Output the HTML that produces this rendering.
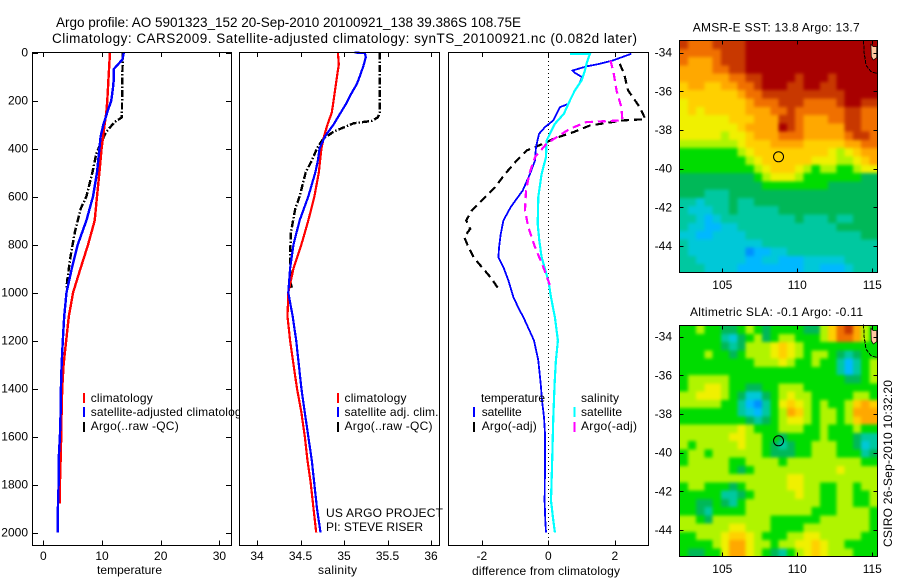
<!DOCTYPE html>
<html>
<head>
<meta charset="utf-8">
<title>Argo profile</title>
<style>
html,body{margin:0;padding:0;background:#fff;}
svg{display:block;}
text{font-family:"Liberation Sans",sans-serif;font-size:12px;fill:#000;}
.t{font-size:13.5px;}
</style>
</head>
<body>
<svg id="chart" xmlns="http://www.w3.org/2000/svg" width="900" height="580" viewBox="0 0 900 580">
<defs>
<filter id="soften" x="-5%" y="-5%" width="110%" height="110%" color-interpolation-filters="sRGB"><feGaussianBlur stdDeviation="1.6"/></filter>
<clipPath id="clip-sst"><rect x="679.5" y="40.5" width="198" height="232"/></clipPath>
<clipPath id="clip-sla"><rect x="679.5" y="325.5" width="198" height="231"/></clipPath>
</defs>
<rect x="0" y="0" width="900" height="580" fill="#fff"/>
<text class="t" x="56" y="27" textLength="465">Argo profile: AO 5901323_152 20-Sep-2010 20100921_138 39.386S 108.75E</text>
<text class="t" x="52" y="43" textLength="585">Climatology: CARS2009. Satellite-adjusted climatology: synTS_20100921.nc (0.082d later)</text>
<g id="layer"></g>
</svg>
<script>
// ---- temperature panel ----
const tempClimDepth = [0,100,200,250,300,400,500,600,700,750,800,900,1000,1100,1200,1300,1400,1500,1600,1700,1800,1880];
const tempClimValue = [11.36,11.13,10.9,10.73,10.45,9.94,9.55,9.15,8.76,8.19,7.63,6.33,5.08,4.35,3.9,3.45,3.22,3.11,3.05,2.94,2.82,2.82];
const tempSatDepth = [0,30,50,70,120,150,200,240,300,350,400,500,600,700,800,900,1000,1100,1200,1300,1400,1500,1600,1700,1800,1900,2000];
const tempSatValue = [13.73,13.45,12.71,11.98,11.98,11.86,11.58,11.02,10.23,9.77,9.55,9.15,8.47,7.34,5.88,4.86,3.95,3.56,3.33,3.11,2.99,2.94,2.82,2.6,2.6,2.49,2.49];
const tempArgoDepth = [0,100,270,290,330,380,420,500,600,650,750,850,950,980];
const tempArgoValue = [13.56,13.45,13.39,12.15,10.73,9.77,9.04,8.36,7.34,6.38,5.37,4.63,4.07,3.95];
// ---- salinity panel ----
const salClimDepth = [0,50,100,200,250,300,350,400,500,600,700,800,900,1000,1100,1200,1300,1400,1500,1600,1700,1800,1900,2000];
const salClimValue = [34.93,34.94,34.92,34.88,34.86,34.81,34.77,34.74,34.71,34.66,34.59,34.51,34.42,34.36,34.35,34.38,34.42,34.46,34.51,34.55,34.58,34.62,34.65,34.68];
const salSatDepth = [0,3,20,60,100,130,180,210,270,300,350,400,450,500,600,700,800,900,1000,1100,1200,1300,1400,1500,1600,1700,1800,1900,2000];
const salSatValue = [35.12,35.24,35.25,35.22,35.18,35.15,35.07,35.03,34.93,34.88,34.78,34.72,34.70,34.67,34.59,34.49,34.42,34.38,34.36,34.41,34.45,34.48,34.51,34.55,34.59,34.63,34.66,34.69,34.73];
const salArgoDepth = [0,100,250,270,285,295,310,330,360,400,450,500,600,650,750,850,950,980];
const salArgoValue = [35.41,35.41,35.41,35.39,35.32,35.11,35.01,34.88,34.76,34.69,34.63,34.56,34.49,34.44,34.39,34.38,34.38,34.40];
// ---- difference panel ----
const diffTempSatDepth = [5,33,47,58,75,85,103,124,158,214,228,283,311,339,394,450,506,575,644,700,755,811,853,894,950,1019,1069,1103,1200,1283,1380,1450,1519,1589,1728,1867,1950,2000];
const diffTempSatValue = [2.5,1.95,1.55,1.15,0.73,0.8,1.02,0.95,0.8,0.6,0.35,0.15,-0.1,-0.28,-0.37,-0.4,-0.55,-0.77,-1.13,-1.35,-1.43,-1.48,-1.5,-1.35,-1.2,-1.05,-0.88,-0.75,-0.43,-0.3,-0.23,-0.19,-0.13,-0.1,-0.1,-0.11,-0.09,-0.07];
const diffSalSatDepth = [5,6,47,75,117,158,200,255,297,367,436,506,603,714,783,853,950,1019,1069,1103,1200,1283,1380,1519,1728,1867,1950,2000];
const diffSalSatValue = [0.65,1.25,1.15,1.1,1.0,0.8,0.65,0.47,0.2,-0.05,-0.07,-0.2,-0.3,-0.32,-0.27,-0.2,0,0.08,0.15,0.2,0.29,0.23,0.19,0.15,0.11,0.08,0.15,0.2];
const diffSalArgoDepth = [33,89,158,228,283,286,290,318,353,380,436,506,575,658,728,811,894,978];
const diffSalArgoValue = [1.87,1.97,2.05,2.2,2.23,1.75,1.15,0.65,0.25,-0.05,-0.4,-0.57,-0.67,-0.7,-0.6,-0.4,-0.15,0.07];
const diffTempArgoDepth = [47,89,158,228,278,283,304,332,360,380,408,450,506,561,603,658,700,735,769,811,853,894,943,985];
const diffTempArgoValue = [2.15,2.28,2.4,2.75,2.92,2.25,1.25,0.75,0.15,-0.15,-0.65,-0.95,-1.3,-1.6,-1.9,-2.3,-2.47,-2.35,-2.53,-2.4,-2.25,-2,-1.7,-1.5];
// ---- axis ticks ----
const depthTicks = [0,200,400,600,800,1000,1200,1400,1600,1800,2000];
const tempTicks = [0,10,20,30];
const salTicks = [34,34.5,35,35.5,36];
const salTickLabels = ["34","34.5","35","35.5","36"];
const diffTicks = [-2,0,2];
const lonTicks = [105,110,115];
const latTicks = [-34,-36,-38,-40,-42,-44];
// ---- float position ----
const argoLon = 108.75;
const argoLat = -39.386;
// ---- coast contour (lon/lat) ----
const contourLon = [114.42,114.45,114.58,114.91,115.29];
const contourLat = [-33.36,-33.95,-34.64,-34.98,-35.07];
const landLon = [114.91,115.07,115.29,115.29,115.07,114.93];
const landLat = [-33.57,-33.69,-33.69,-34.26,-34.38,-34.2];
// ---- heat-map rows (colour level 0-12) ----
const sstGrid = [
[11,10,10,10,11,11,11,11,12,12,12,12,12,12,12,12,12,12,12,12,12,12,12,12],
[10,10,10,10,10,11,11,11,12,12,12,12,12,12,12,12,12,12,12,12,12,12,12,12],
[10,9,9,9,10,11,11,11,12,12,12,12,12,12,12,12,12,12,12,12,12,12,12,12],
[9,9,9,9,10,10,11,11,12,12,12,12,12,12,12,12,12,12,12,12,12,12,12,12],
[9,9,9,9,9,9,10,10,11,11,12,12,12,12,11,12,12,12,11,12,12,12,12,12],
[8,9,9,8,8,9,9,10,10,11,12,12,12,11,11,12,12,11,11,12,12,12,12,12],
[8,8,8,8,8,8,8,9,10,10,11,11,11,11,11,11,11,11,11,11,12,12,12,12],
[7,8,8,8,8,8,8,8,9,10,10,10,11,11,11,10,10,10,10,11,12,12,11,11],
[7,8,7,8,8,8,8,8,9,9,9,10,10,11,10,10,10,10,10,10,11,11,10,10],
[7,7,7,7,7,7,8,8,8,9,9,9,11,11,10,9,9,9,10,10,11,11,10,10],
[7,7,7,7,7,7,7,8,9,9,9,9,12,11,10,9,9,9,9,9,11,11,10,10],
[7,7,7,7,7,6,7,7,8,9,9,9,10,10,10,9,9,9,9,9,10,11,11,10],
[6,6,6,6,6,6,6,7,8,8,8,9,9,9,9,8,8,8,8,8,9,9,10,10],
[5,5,5,5,5,5,5,6,7,8,8,8,8,8,8,8,8,8,7,6,7,8,9,9],
[5,5,5,5,5,5,5,5,6,7,8,8,8,8,8,8,7,7,7,6,6,7,8,9],
[5,5,5,5,5,5,5,5,5,6,7,8,8,8,7,6,5,6,6,5,5,6,7,7],
[4,4,4,4,4,4,4,4,4,5,6,7,7,7,6,5,5,5,5,5,5,5,4,4],
[4,4,4,4,4,4,4,4,4,4,5,5,5,5,5,5,5,5,4,4,4,4,4,4],
[4,4,4,3,3,3,4,4,4,4,4,4,4,4,4,4,4,4,4,4,4,4,4,4],
[3,3,2,3,3,3,4,3,3,4,4,4,4,4,4,4,4,4,4,4,4,4,4,4],
[3,2,2,2,3,3,4,3,3,3,3,3,4,4,4,4,4,4,4,4,4,4,4,4],
[3,3,2,1,2,3,3,3,3,3,3,3,3,3,4,3,3,3,4,3,3,4,4,4],
[3,2,2,1,1,2,2,3,3,3,3,3,3,3,3,3,3,3,3,4,4,4,4,4],
[2,2,1,1,2,2,2,2,3,3,3,3,3,3,3,3,3,3,3,3,3,3,4,4],
[3,2,2,2,2,2,2,2,2,2,3,3,3,3,3,3,3,3,3,3,3,3,3,3],
[3,2,2,2,2,2,2,2,0,1,1,2,2,3,3,3,3,3,3,3,3,3,3,3],
[3,3,2,2,2,2,2,2,1,1,2,2,1,1,1,2,2,2,2,2,3,3,3,3],
[3,3,3,2,2,2,2,1,1,1,1,1,1,1,1,2,2,1,1,1,2,3,3,3]
];
const slaGrid = [
[5,5,6,5,5,4,4,5,6,5,4,5,5,5,5,4,4,6,8,10,11,9,6,5],
[5,5,5,5,5,3,2,4,5,6,4,5,6,6,5,5,5,6,8,10,10,9,6,5],
[5,5,5,5,5,4,3,4,6,6,6,7,8,7,6,5,5,5,5,5,5,5,5,5],
[5,5,5,6,5,5,4,5,6,6,6,7,8,7,6,5,6,6,5,4,3,4,5,5],
[5,5,5,5,5,5,5,5,5,6,6,6,7,6,5,5,6,5,5,3,1,3,5,6],
[5,5,5,5,5,5,5,5,5,5,5,5,5,5,5,5,5,5,5,3,1,3,5,6],
[5,6,6,6,6,6,5,5,5,5,5,5,5,5,5,5,5,5,5,5,4,4,5,6],
[5,6,6,7,7,6,5,5,4,4,5,5,6,6,6,5,5,5,5,5,5,5,5,5],
[6,6,7,7,7,6,5,4,2,2,4,5,6,7,6,6,5,5,5,5,5,6,6,5],
[6,6,6,6,6,5,5,3,1,0,3,5,7,8,7,6,5,6,5,5,6,8,9,8],
[5,5,5,5,5,5,5,3,2,1,3,5,6,9,8,6,5,6,6,5,6,9,9,9],
[5,5,5,5,5,5,5,5,4,3,4,5,6,7,7,6,5,6,6,5,6,8,9,9],
[6,6,6,6,6,6,6,7,6,5,5,5,6,6,6,5,5,6,5,5,5,6,5,5],
[6,6,6,6,6,6,7,7,6,6,5,5,4,5,5,5,5,6,5,5,5,4,3,3],
[6,5,6,6,6,6,6,7,6,6,5,4,3,4,5,5,6,6,6,5,5,4,2,3],
[5,6,6,5,6,6,6,6,6,6,5,4,4,4,5,5,6,6,6,5,5,5,3,4],
[5,6,6,6,6,6,5,5,6,6,6,6,5,6,6,6,6,6,6,6,6,6,5,5],
[6,6,6,6,6,6,5,4,5,6,6,6,6,6,6,6,6,6,6,7,6,6,6,6],
[6,6,6,6,6,6,6,6,6,6,6,6,6,7,7,6,6,6,6,6,6,6,6,6],
[5,6,6,5,5,5,4,5,6,6,6,6,6,7,7,6,6,5,5,6,6,5,6,6],
[5,5,5,5,5,3,3,4,5,6,6,6,6,6,7,6,6,5,5,6,6,5,5,6],
[5,5,4,4,5,4,3,5,6,6,6,6,6,6,6,6,6,5,5,6,6,5,5,6],
[5,5,4,3,5,5,5,5,6,6,6,6,6,6,6,6,5,5,5,6,6,6,6,5],
[6,6,5,4,6,6,6,6,6,6,6,5,5,5,5,5,5,6,6,6,6,6,6,5],
[6,6,6,6,6,6,7,7,6,6,6,5,5,5,5,6,6,6,6,6,6,6,6,5],
[5,5,6,6,6,7,8,8,7,6,5,5,5,6,6,7,7,6,6,6,6,6,5,5],
[5,5,5,5,6,7,9,9,7,6,6,5,6,6,7,7,8,7,6,6,5,5,5,5],
[5,4,4,5,5,7,9,9,7,6,5,4,3,5,6,7,8,7,6,6,6,5,5,5]
];

const levelColors = ["#0090ff","#00b8ff","#00c8d8","#00c8a0","#00b858","#00dc00","#b0f400","#f0f000","#ffd000","#ffa800","#f07000","#c83800","#a80000"];
const NS = "http://www.w3.org/2000/svg";
const layer = document.getElementById("layer");

function make(tag, attrs, parent) {
  const n = document.createElementNS(NS, tag);
  for (const k in attrs) n.setAttribute(k, attrs[k]);
  (parent || layer).appendChild(n);
  return n;
}
function label(str, x, y, anchor, len) {
  const n = make("text", {x: x, y: y, "text-anchor": anchor || "start"});
  if (len) n.setAttribute("textLength", len);
  n.textContent = str;
  return n;
}
const depthY = d => 52.5 + 0.24 * d;
const tempX = v => 43.3 + 5.87 * v;
const salX = v => 257 + 87 * (v - 34);
const diffX = v => 548.3 + 33.25 * v;

function drawLine(depths, values, xFn, color, width, dash, name) {
  const pts = depths.map((d, i) => xFn(values[i]).toFixed(1) + "," + depthY(d).toFixed(1)).join(" ");
  const el = make("polyline", {points: pts, fill: "none", stroke: color, "stroke-width": width, "shape-rendering": "crispEdges"});
  if (dash) el.setAttribute("stroke-dasharray", dash);
  
  
}
function drawFrame(x, y, w, h, name) {
  const el = make("rect", {x: x, y: y, width: w, height: h, fill: "none", stroke: "#000", "stroke-width": 1, "shape-rendering": "crispEdges"});
  
  
}
function drawTick(x1, y1, x2, y2) {
  const el = make("line", {x1: x1, y1: y1, x2: x2, y2: y2, stroke: "#000", "stroke-width": 1, "shape-rendering": "crispEdges"});
  
  
}
function drawPanelBg(x, w, name) {
  const el = make("rect", {x: x, y: 52, width: w, height: 494, fill: "#fff"});
  
  
}
function drawXAxis(ticks, labels, xFn) {
  ticks.forEach((t, i) => {
    const x = Math.round(xFn(t)) + 0.5;
    drawTick(x, 52.5, x, 57);
    drawTick(x, 540.5, x, 545.5);
    const el = label(labels[i], xFn(t), 560, "middle");
    
    
  });
}
function legendMark(x, y, color) {
  const el = make("rect", {x: x, y: y, width: 2, height: 10, fill: color});
  
  
}
function legendText(str, x, y, len) {
  const el = label(str, x, y, "start", len);
  
  
}
function axisTitle(str, x, y, len) {
  const el = label(str, x, y, "start", len);
  
  
}

// ----- Panel 1: temperature -----
drawLine(tempArgoDepth, tempArgoValue, tempX, "#000", 2.4, "7 2 1.5 2", "temperature-argo-line");
drawLine(tempClimDepth, tempClimValue, tempX, "#f00", 2.4, null, "temperature-climatology-line");
drawLine(tempSatDepth, tempSatValue, tempX, "#00f", 2.4, null, "temperature-satellite-line");
drawFrame(32.5, 52.5, 199, 493, "temperature-panel-frame");
depthTicks.forEach(d => {
  const y = Math.round(depthY(d)) + 0.5;
  drawTick(32.5, y, 38, y);
  drawTick(226, y, 231.5, y);
  const el = label(String(d), 28, depthY(d) + 4, "end");
  
  
});
drawXAxis(tempTicks, tempTicks.map(String), tempX);
axisTitle("temperature", 97, 574, 65);
legendMark(83, 393, "#f00"); legendText("climatology", 90.7, 402, 62);
legendMark(83, 407, "#00f"); legendText("satellite-adjusted climatology", 90.7, 416, 157);
legendMark(83, 422, "#000"); legendText("Argo(..raw -QC)", 90.7, 430, 88);

// ----- Panel 2: salinity -----
drawPanelBg(239.5, 199.5, "salinity-panel-background");
drawLine(salArgoDepth, salArgoValue, salX, "#000", 2.4, "7 2 1.5 2", "salinity-argo-line");
drawLine(salClimDepth, salClimValue, salX, "#f00", 2.2, null, "salinity-climatology-line");
drawLine(salSatDepth, salSatValue, salX, "#00f", 2.2, null, "salinity-satellite-line");
drawFrame(239.5, 52.5, 200, 493, "salinity-panel-frame");
drawXAxis(salTicks, salTickLabels, salX);
axisTitle("salinity", 318, 574, 39);
legendMark(337, 393, "#f00"); legendText("climatology", 344.5, 402, 62);
legendMark(337, 407, "#00f"); legendText("satellite adj. clim.", 344.5, 416, 94);
legendMark(337, 422, "#000"); legendText("Argo(..raw -QC)", 344.5, 430, 88);
const credit1 = label("US ARGO PROJECT", 326, 517, "start", 117);


const credit2 = label("PI: STEVE RISER", 326, 531, "start", 97);



// ----- Panel 3: difference -----
const zeroLine = make("line", {x1: 548.5, y1: 53, x2: 548.5, y2: 545, stroke: "#000", "stroke-width": 1, "stroke-dasharray": "1 3", "shape-rendering": "crispEdges"});


drawLine(diffTempArgoDepth, diffTempArgoValue, diffX, "#000", 2.2, "8 5", "difference-temperature-argo-line");
drawLine(diffTempSatDepth, diffTempSatValue, diffX, "#00f", 1.8, null, "difference-temperature-satellite-line");
drawLine(diffSalSatDepth, diffSalSatValue, diffX, "#0ff", 2.2, null, "difference-salinity-satellite-line");
drawLine(diffSalArgoDepth, diffSalArgoValue, diffX, "#f0f", 2.2, "8 5", "difference-salinity-argo-line");
drawFrame(448.5, 52.5, 200, 493, "difference-panel-frame");
drawXAxis(diffTicks, diffTicks.map(String), diffX);
axisTitle("difference from climatology", 472, 575, 148);
legendText("temperature", 481, 402, 64);
legendMark(473, 407, "#00f"); legendText("satellite", 481.7, 416, 40);
legendMark(473, 422, "#000"); legendText("Argo(-adj)", 481.7, 430, 55);
legendText("salinity", 581, 402, 38);
legendMark(573.5, 407, "#0ff"); legendText("satellite", 581, 416, 41);
legendMark(573.5, 422, "#f0f"); legendText("Argo(-adj)", 581, 430, 56);

// ----- Maps -----
function drawMap(grid, top, bottom, lat34Y, prefix) {
  const left = 679.5, right = 877.5;
  const lonX = v => 722.3 + 15 * (v - 105);
  const latY = v => lat34Y + 19.33 * (-34 - v);
  const rows = grid.length, cols = grid[0].length;
  const cw = (right - left) / cols, ch = (bottom - top) / rows;
  const clipGroup = make("g", {"clip-path": "url(#clip-" + prefix + ")"});
  
  
  const cellGroup = make("g", {filter: "url(#soften)"}, clipGroup);
  
  
  // edge cells are repeated just outside the frame so the softening stays opaque at the border
  for (let r = -2; r < rows + 2; r++) {
    for (let c = -2; c < cols + 2; c++) {
      const lev = grid[Math.max(0, Math.min(rows - 1, r))][Math.max(0, Math.min(cols - 1, c))];
      const cell = make("rect", {x: (left + c * cw).toFixed(2), y: (top + r * ch).toFixed(2), width: (cw + 0.6).toFixed(2), height: (ch + 0.6).toFixed(2), fill: levelColors[lev], "shape-rendering": "crispEdges"}, cellGroup);
      
      
    }
  }
  const land = make("polygon", {points: landLon.map((v, i) => lonX(v).toFixed(1) + "," + latY(landLat[i]).toFixed(1)).join(" "), fill: "#ffc8a0", stroke: "#000", "stroke-width": 0.7});
  
  
  const contour = make("polyline", {points: contourLon.map((v, i) => lonX(v).toFixed(1) + "," + latY(contourLat[i]).toFixed(1)).join(" "), fill: "none", stroke: "#000", "stroke-width": 1, "stroke-dasharray": "4 1", "shape-rendering": "crispEdges"});
  
  
  const circle = make("circle", {cx: lonX(argoLon), cy: latY(argoLat), r: 5, fill: "none", stroke: "#000", "stroke-width": 1});
  
  
  drawFrame(left, top, right - left, bottom - top, prefix + "-map-frame");
  lonTicks.forEach(v => {
    const x = Math.round(lonX(v)) + 0.5;
    drawTick(x, top, x, top + 4);
    drawTick(x, bottom - 4, x, bottom);
    const el = label(String(v), lonX(v), bottom + 16.5, "middle");
    
    
  });
  latTicks.forEach(v => {
    const y = Math.round(latY(v)) + 0.5;
    drawTick(left, y, left + 4, y);
    drawTick(right - 4, y, right, y);
    const el = label(String(v), 672, latY(v) + 4, "end");
    
    
  });
}
drawMap(sstGrid, 40.5, 272.5, 52.7, "sst");
drawMap(slaGrid, 325.5, 556.5, 336.7, "sla");

const sstTitle = label("AMSR-E SST: 13.8 Argo: 13.7", 692.7, 31.5, "start", 167);


const slaTitle = label("Altimetric SLA: -0.1 Argo: -0.11", 690, 316, "start", 173);


const stamp = label("CSIRO 26-Sep-2010 10:32:20", 0, 0, "start", 167);
stamp.setAttribute("transform", "translate(892,547) rotate(-90)");


</script>
</body>
</html>
